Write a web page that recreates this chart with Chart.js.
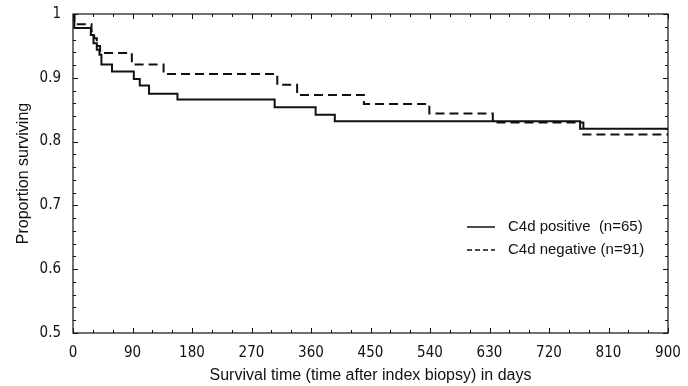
<!DOCTYPE html>
<html>
<head>
<meta charset="utf-8">
<script src="https://cdn.jsdelivr.net/npm/chart.js"></script>
<style>
  html, body { margin: 0; padding: 0; background: #fff; }
  #wrap { width: 688px; height: 386px; }
</style>
</head>
<body>
<div id="wrap"><canvas id="kmChart" width="688" height="386"></canvas></div>
<script>
// km-survival - Kaplan-Meier curves, C4d positive vs negative

// day of each step and survival after it
const posDays = [0, 2, 27, 31, 36, 40, 43, 59, 92, 101, 115, 158, 305, 367, 396, 767, 900];
const posSurv = [1, 0.978, 0.967, 0.954, 0.944, 0.936, 0.921, 0.910, 0.898, 0.888, 0.875, 0.866, 0.854, 0.842, 0.832, 0.820, 0.820];

const negDays = [0, 2, 28, 32, 36, 41, 89, 137, 309, 339, 440, 539, 635, 772, 900];
const negSurv = [1, 0.984, 0.973, 0.962, 0.950, 0.939, 0.921, 0.906, 0.889, 0.873, 0.859, 0.844, 0.830, 0.811, 0.811];

const seriesLabels = ['C4d positive  (n=65)', 'C4d negative (n=91)'];
const xTicks = [0, 90, 180, 270, 360, 450, 540, 630, 720, 810, 900];
const yTicks = [0.5, 0.6, 0.7, 0.8, 0.9, 1];

const tickFont = { family: "'Liberation Sans Narrow', 'Arial Narrow', 'DejaVu Sans Condensed', sans-serif", size: 15 };
const textFont = { family: "'Liberation Sans', Arial, sans-serif", size: 15 };
const titleFont = { family: "'Liberation Sans', Arial, sans-serif", size: 16 };

function toPoints(days, surv) {
  return days.map((d, i) => ({ x: d, y: surv[i] }));
}

// box round the plot with small inward ticks on all four sides
const frameTicks = {
  id: 'frameTicks',
  afterDraw(chart) {
    const { ctx, chartArea: a, scales: { x, y } } = chart;
    ctx.save();
    ctx.strokeStyle = '#111';
    ctx.lineWidth = 1.2;
    ctx.strokeRect(a.left, a.top, a.right - a.left, a.bottom - a.top);
    ctx.lineWidth = 1;
    ctx.beginPath();
    for (let v = 0; v <= 900; v += 30) {
      const px = Math.round(x.getPixelForValue(v)) + 0.5;
      const len = v % 90 === 0 ? 5 : 3;
      ctx.moveTo(px, a.bottom); ctx.lineTo(px, a.bottom - len);
      ctx.moveTo(px, a.top); ctx.lineTo(px, a.top + len);
    }
    for (let i = 0; i <= 25; i++) {
      const py = Math.round(y.getPixelForValue(0.5 + i * 0.02)) + 0.5;
      const len = i % 5 === 0 ? 5 : 3;
      ctx.moveTo(a.left, py); ctx.lineTo(a.left + len, py);
      ctx.moveTo(a.right, py); ctx.lineTo(a.right - len, py);
    }
    ctx.stroke();
    ctx.restore();
  }
};

// legend drawn inside the plot, lower right
const insideLegend = {
  id: 'insideLegend',
  afterDraw(chart) {
    const { ctx } = chart;
    const dashes = [[], [5, 3]];
    ctx.save();
    ctx.font = textFont.size + 'px ' + textFont.family;
    ctx.textBaseline = 'middle';
    ctx.fillStyle = '#111';
    chart.data.datasets.forEach((ds, i) => {
      const yy = 227 + i * 23;
      ctx.strokeStyle = '#111';
      ctx.lineWidth = 1.5;
      ctx.setLineDash(dashes[i]);
      ctx.beginPath();
      ctx.moveTo(467, yy); ctx.lineTo(495, yy);
      ctx.stroke();
      ctx.fillText(ds.label, 508, yy);
    });
    ctx.restore();
  }
};

document.addEventListener('DOMContentLoaded', () => {
  const ctx = document.getElementById('kmChart').getContext('2d');

  const data = {
    datasets: [{
      label: seriesLabels[0],
      data: toPoints(posDays, posSurv),
      borderColor: '#111',
      borderWidth: 2,
      stepped: true,
      pointRadius: 0,
      fill: false
    }, {
      label: seriesLabels[1],
      data: toPoints(negDays, negSurv),
      borderColor: '#111',
      borderWidth: 2,
      borderDash: [9, 5],
      stepped: true,
      pointRadius: 0,
      fill: false
    }]
  };

  const config = {
    type: 'line',
    data: data,
    options: {
      responsive: false,
      animation: false,
      devicePixelRatio: 1,
      layout: { padding: { top: 14, right: 20, bottom: 0, left: 0 } },
      plugins: {
        legend: { display: false },
        tooltip: { enabled: false }
      },
      scales: {
        x: {
          type: 'linear',
          min: 0,
          max: 900,
          grid: { display: false },
          border: { display: false },
          afterBuildTicks: s => { s.ticks = xTicks.map(v => ({ value: v })); },
          afterFit: s => { s.height = 53; },
          ticks: { color: '#111', font: tickFont, padding: 3, maxRotation: 0, autoSkip: false },
          title: {
            display: true,
            text: 'Survival time (time after index biopsy) in days',
            color: '#111',
            font: titleFont,
            padding: { top: 0, bottom: 1 }
          }
        },
        y: {
          min: 0.5,
          max: 1,
          grid: { display: false },
          border: { display: false },
          afterBuildTicks: s => { s.ticks = yTicks.map(v => ({ value: v })); },
          afterFit: s => { s.width = 73; },
          ticks: {
            color: '#111',
            font: tickFont,
            padding: 4,
            callback: v => (v === 1 ? '1' : v.toFixed(1))
          },
          title: {
            display: true,
            text: 'Proportion surviving',
            color: '#111',
            font: titleFont,
            padding: { top: 14, bottom: 0 }
          }
        }
      }
    },
    plugins: [frameTicks, insideLegend]
  };

  new Chart(ctx, config);
});
</script>
</body>
</html>
